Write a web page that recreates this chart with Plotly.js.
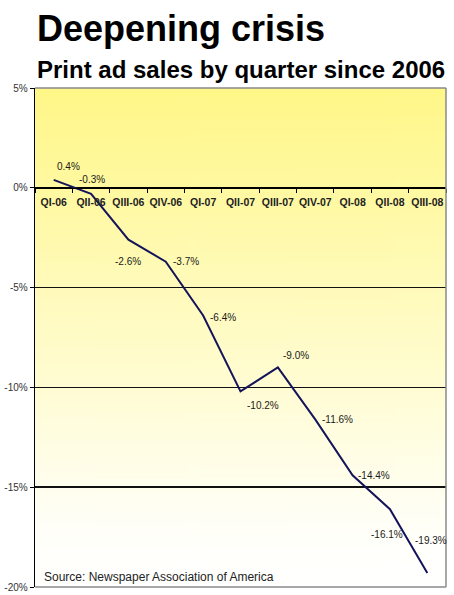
<!DOCTYPE html>
<html><head><meta charset="utf-8">
<script src="https://cdn.plot.ly/plotly-3.0.1.min.js"></script>
<style>html,body{margin:0;padding:0;background:#fff;}#chart{width:454px;height:595px;}</style>
</head><body><div id="chart"></div>
<script>
const quarters = ['QI-06','QII-06','QIII-06','QIV-06','QI-07','QII-07','QIII-07','QIV-07','QI-08','QII-08','QIII-08'];
const salesChange = [0.4,-0.3,-2.6,-3.7,-6.4,-10.2,-9.0,-11.6,-14.4,-16.1,-19.3];
const yTicks = [5,0,-5,-10,-15,-20];
const yTickLabels = ['5%','0%','-5%','-10%','-15%','-20%'];
const titleText = 'Deepening crisis';
const subtitleText = 'Print ad sales by quarter since 2006';
const sourceText = 'Source: Newspaper Association of America';

// label offsets in pixels (style only)
const labelShift = [[15,-13],[1,-14],[0,22],[20,0],[20,2],[22,14],[18,-12],[22,0],[21,0],[-3,25],[4,-33]];

const yMin = -20, yMax = 5;
const FONT = 'Liberation Sans, Arial, sans-serif';

// gradient background
const cv = document.createElement('canvas'); cv.width = 4; cv.height = 256;
const ctx = cv.getContext('2d');
const g = ctx.createLinearGradient(0,0,0,256);
g.addColorStop(0,'rgb(255,247,135)');
g.addColorStop(0.9,'rgb(255,255,250)');
g.addColorStop(1,'rgb(255,255,255)');
ctx.fillStyle = g; ctx.fillRect(0,0,4,256);

const annotations = salesChange.map((v,i)=>({
  x: quarters[i], y: v, xref:'x', yref:'y',
  text: v.toFixed(1)+'%', showarrow:false,
  xshift: labelShift[i][0], yshift: -labelShift[i][1],
  font:{family:FONT, size:10, color:'#1a1a1a'}
}));
annotations.push(
  {xref:'paper', yref:'paper', x:0, y:(587-28)/499, xanchor:'left', yanchor:'middle', showarrow:false,
   text:titleText, font:{family:FONT, size:36, color:'#000', weight:'bold'}},
  {xref:'paper', yref:'paper', x:0, y:(587-69)/499, xanchor:'left', yanchor:'middle', showarrow:false,
   text:subtitleText, font:{family:FONT, size:24, color:'#000', weight:'bold'}},
  {xref:'paper', yref:'paper', x:(42-35)/411, y:(587-577)/499, xanchor:'left', yanchor:'middle', showarrow:false,
   text:sourceText, font:{family:FONT, size:12, color:'#222'}}
);

const data = [{
  type:'scatter', mode:'lines', x: quarters, y: salesChange,
  line:{color:'#14145a', width:2}, hoverinfo:'skip'
}];

const layout = {
  width:454, height:595,
  margin:{l:35, r:8, t:88, b:8},
  paper_bgcolor:'#ffffff', plot_bgcolor:'rgba(0,0,0,0)',
  showlegend:false,
  xaxis:{type:'category', range:[-0.5, quarters.length-0.5], anchor:'free',
    position:(0-yMin)/(yMax-yMin),
    showline:true, linecolor:'#000', linewidth:1.3,
    ticks:'outside', tickson:'boundaries', ticklen:4, tickcolor:'#000',
    tickangle:0, ticklabelstandoff:4,
    showgrid:false, zeroline:false,
    tickfont:{family:FONT, size:10.5, color:'#222', weight:'bold'}, fixedrange:true},
  yaxis:{range:[yMin,yMax], tickvals:yTicks, ticktext:yTickLabels,
    showline:true, linecolor:'#000', linewidth:1.3,
    ticks:'outside', ticklen:4, tickcolor:'#000',
    showgrid:true, gridcolor:'#111', gridwidth:1.5,
    zeroline:true, zerolinecolor:'#000', zerolinewidth:1.5,
    tickfont:{family:FONT, size:10, color:'#333'}, fixedrange:true},
  images:[{source:cv.toDataURL(), xref:'paper', yref:'paper', x:0, y:1, sizex:1, sizey:1,
    sizing:'stretch', layer:'below', xanchor:'left', yanchor:'top'}],
  shapes:[
    {type:'line', xref:'paper', yref:'paper', x0:0, x1:1, y0:1, y1:1, line:{color:'#8a8a8a', width:1.5}, layer:'above'},
    {type:'line', xref:'paper', yref:'paper', x0:1, x1:1, y0:0, y1:1, line:{color:'#8a8a8a', width:1.5}, layer:'above'},
    {type:'line', xref:'paper', yref:'paper', x0:0, x1:1, y0:0, y1:0, line:{color:'#8a8a8a', width:1.5}, layer:'above'}
  ],
  annotations: annotations
};

Plotly.newPlot('chart', data, layout, {staticPlot:true, displayModeBar:false});
</script>
</body></html>
